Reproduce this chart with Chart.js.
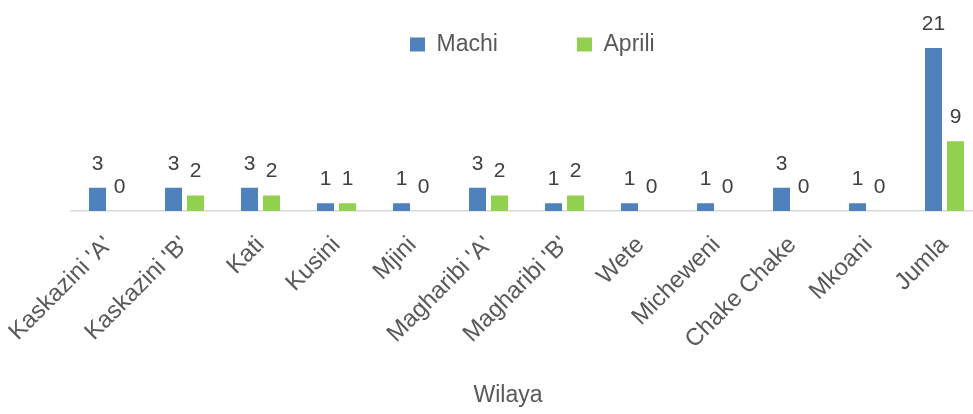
<!DOCTYPE html>
<html>
<head>
<meta charset="utf-8">
<script src="https://cdn.jsdelivr.net/npm/chart.js@4.4.1/dist/chart.umd.min.js"></script>
<style>
  html, body { margin: 0; padding: 0; background: #ffffff; }
  #wrap { width: 973px; height: 414px; overflow: hidden; position: relative; }
  canvas { display: block; }
</style>
</head>
<body>
<div id="wrap"><canvas id="c" width="990" height="414"></canvas></div>
<script>
const categories = ["Kaskazini 'A'", "Kaskazini 'B'", "Kati", "Kusini", "Mjini", "Magharibi 'A'", "Magharibi 'B'", "Wete", "Micheweni", "Chake Chake", "Mkoani", "Jumla"];
const machi = [3, 3, 3, 1, 1, 3, 1, 1, 1, 3, 1, 21];
const aprili = [0, 2, 2, 1, 0, 2, 2, 0, 0, 0, 0, 9];
const seriesNames = ["Machi", "Aprili"];
const axisTitle = "Wilaya";

const FONT = "'Liberation Sans', Arial, sans-serif";
const LEG_FONT_SIZE = 23;
const LEG_BOX_X = 410;
const LEG_BOX2_X = 577;
const LEG_Y = 33;

// measure legend text to get spacing
const mctx = document.createElement('canvas').getContext('2d');
mctx.font = LEG_FONT_SIZE + "px " + FONT;
const w1 = mctx.measureText(seriesNames[0]).width;
const legPad = Math.max(10, LEG_BOX2_X - LEG_BOX_X - 15 - LEG_FONT_SIZE / 2 - w1);

const overlay = {
  id: 'overlay',
  beforeLayout(chart) {
    const lg = chart.legend;
    if (lg && !lg._patched) {
      const f = lg.fit;
      lg.fit = function () { f.call(this); this.height = 0; };
      lg._patched = true;
    }
  },
  afterLayout(chart) {
    const lg = chart.legend;
    if (!lg) return;
    const p = legPad;
    const R = chart.width;
    const lw = lg.lineWidths ? lg.lineWidths[0] : 0;
    lg.right = R;
    lg.left = 2 * LEG_BOX_X - p - R + lw;
    lg.top = LEG_Y - p;
    lg.bottom = lg.top + p + 60;
    lg.width = lg.right - lg.left;
    lg.height = lg.bottom - lg.top;
  },
  afterDatasetsDraw(chart) {
    const ctx = chart.ctx;
    ctx.save();
    ctx.font = "21px " + FONT;
    ctx.fillStyle = "#404040";
    ctx.textAlign = "center";
    ctx.textBaseline = "alphabetic";
    chart.data.datasets.forEach((ds, i) => {
      const meta = chart.getDatasetMeta(i);
      meta.data.forEach((el, j) => {
        ctx.fillText(String(ds.data[j]), el.x, el.y - 18);
      });
    });
    ctx.font = "23px " + FONT;
    ctx.fillStyle = "#595959";
    ctx.textBaseline = "middle";
    ctx.fillText(axisTitle, 508, 396);
    ctx.restore();
  }
};

new Chart(document.getElementById('c'), {
  type: 'bar',
  data: {
    labels: categories,
    datasets: [
      { label: seriesNames[0], data: machi, backgroundColor: '#4F81BD', borderWidth: 0,
        categoryPercentage: 0.579, barPercentage: 0.773 },
      { label: seriesNames[1], data: aprili, backgroundColor: '#92D050', borderWidth: 0,
        categoryPercentage: 0.579, barPercentage: 0.773 }
    ]
  },
  options: {
    responsive: false,
    animation: false,
    devicePixelRatio: 1,
    layout: { padding: { left: 70.5, right: 7.5, top: 17, bottom: 0 } },
    plugins: {
      legend: {
        display: true,
        position: 'top',
        align: 'center',
        labels: {
          boxWidth: 15,
          boxHeight: 14,
          padding: legPad,
          color: '#595959',
          font: { family: FONT, size: LEG_FONT_SIZE }
        }
      },
      tooltip: { enabled: false }
    },
    scales: {
      x: {
        grid: { display: false, drawTicks: false },
        border: { display: true, color: '#D9D9D9', width: 1.5 },
        ticks: {
          autoSkip: false,
          minRotation: 45,
          maxRotation: 45,
          padding: 20,
          color: '#595959',
          font: { family: FONT, size: 24 }
        },
        afterFit(scale) {
          scale.height = 203;
          scale.paddingLeft = 0;
          scale.paddingRight = 0;
        }
      },
      y: {
        display: false,
        min: 0,
        max: 25
      }
    }
  },
  plugins: [overlay]
});
</script>
</body>
</html>
